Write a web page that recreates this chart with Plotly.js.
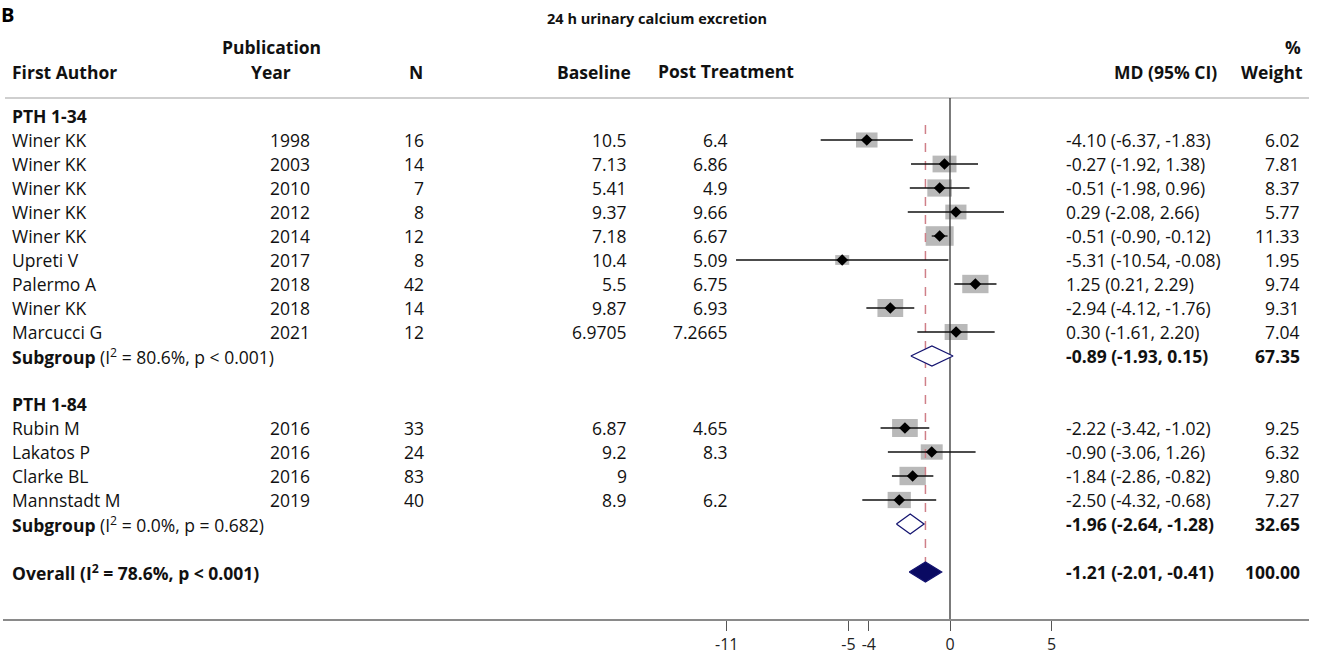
<!DOCTYPE html>
<html><head><meta charset="utf-8">
<script src="https://cdn.plot.ly/plotly-3.0.1.min.js"></script>
<style>html,body{margin:0;padding:0;background:#fff;}#chart{width:1319px;height:654px;}</style>
</head><body><div id="chart"></div>
<script>
// ---------- data ----------
const groupNames = ["PTH 1-34", "PTH 1-84"];
const studyGroup = [0,0,0,0,0,0,0,0,0,1,1,1,1];
const authors = ["Winer KK","Winer KK","Winer KK","Winer KK","Winer KK","Upreti V","Palermo A","Winer KK","Marcucci G","Rubin M","Lakatos P","Clarke BL","Mannstadt M"];
const years = [1998,2003,2010,2012,2014,2017,2018,2018,2021,2016,2016,2016,2019];
const sampleN = [16,14,7,8,12,8,42,14,12,33,24,83,40];
const baseline = ["10.5","7.13","5.41","9.37","7.18","10.4","5.5","9.87","6.9705","6.87","9.2","9","8.9"];
const postTreatment = ["6.4","6.86","4.9","9.66","6.67","5.09","6.75","6.93","7.2665","4.65","8.3","","6.2"];
const md = [-4.10,-0.27,-0.51,0.29,-0.51,-5.31,1.25,-2.94,0.30,-2.22,-0.90,-1.84,-2.50];
const ciLow = [-6.37,-1.92,-1.98,-2.08,-0.90,-10.54,0.21,-4.12,-1.61,-3.42,-3.06,-2.86,-4.32];
const ciHigh = [-1.83,1.38,0.96,2.66,-0.12,-0.08,2.29,-1.76,2.20,-1.02,1.26,-0.82,-0.68];
const weight = [6.02,7.81,8.37,5.77,11.33,1.95,9.74,9.31,7.04,9.25,6.32,9.80,7.27];

const subMd = [-0.89,-1.96];
const subLow = [-1.93,-2.64];
const subHigh = [0.15,-1.28];
const subWeight = [67.35,32.65];
const subI2 = ["80.6%","0.0%"];
const subP = ["p &lt; 0.001","p = 0.682"];

const overallMd = -1.21, overallLow = -2.01, overallHigh = -0.41, overallWeight = 100.00;
const overallI2 = "78.6%", overallP = "p &lt; 0.001";

const tickVals = [-11,-5,-4,0,5];
const tickText = ["-11","-5","-4","0","5"];

// ---------- layout constants ----------
const W = 1319, H = 654;
const PXU = 20.3, ZEROPX = 950;          // px per unit, pixel of x=0
const AX_L = 3, AX_R = 1309;             // axis domain in px
const ROW0 = 116, ROWH = 24;             // pixel of row 0, row height
const FONT = "Open Sans, Noto Sans, sans-serif";
const FS = 17.5;
const PAD = 3;                            // annotation inner padding compensation
const pxToRow = p => (p - ROW0) / ROWH;

// build row indices
const studyRow = [], subRow = [], groupRow = [];
let r = 0;
for (let g = 0; g < groupNames.length; g++) {
  groupRow.push(r); r++;
  for (let i = 0; i < authors.length; i++) if (studyGroup[i] === g) { studyRow[i] = r; r++; }
  subRow.push(r); r++;
  r++; // blank
}
const overallRow = r;
const axisRow = overallRow + 2;

const fmt = v => v.toFixed(2);
const ciText = (m,l,h) => fmt(m) + " (" + fmt(l) + ", " + fmt(h) + ")";

// ---------- traces ----------
const traces = [];
traces.push({
  type: "scatter", mode: "markers", xaxis: "x", yaxis: "y",
  x: md, y: studyRow,
  marker: {symbol: "diamond", size: 9, color: "#000"},
  error_x: {type: "data", symmetric: false,
    array: md.map((m,i) => ciHigh[i]-m), arrayminus: md.map((m,i) => m-ciLow[i]),
    color: "#111", thickness: 1.3, width: 0},
  hoverinfo: "skip", showlegend: false
});
function diamond(m, l, h, row, fill) {
  const hh = 10 / ROWH;
  return {type: "scatter", mode: "lines", xaxis: "x", yaxis: "y",
    x: [l, m, h, m, l], y: [row, row-hh, row, row+hh, row],
    fill: "toself", fillcolor: fill, line: {color: "#141470", width: 1.3},
    hoverinfo: "skip", showlegend: false};
}
for (let g = 0; g < subMd.length; g++) traces.push(diamond(subMd[g], subLow[g], subHigh[g], subRow[g], "#ffffff"));
traces.push(diamond(overallMd, overallLow, overallHigh, overallRow, "#0a0a62"));
traces.push({type:"scatter", mode:"none", x:[AX_L], y:[0], xaxis:"x2", yaxis:"y", hoverinfo:"skip", showlegend:false});

// ---------- shapes ----------
const shapes = [];
md.forEach((m,i) => {
  const wpx = 4.1 + 7.1*Math.sqrt(weight[i]);
  const hpx = 0.7*wpx;
  const hw = wpx/2/PXU, hh = hpx/2/ROWH;
  shapes.push({type:"rect", xref:"x", yref:"y", x0:m-hw, x1:m+hw, y0:studyRow[i]-hh, y1:studyRow[i]+hh,
    fillcolor:"#b9b9b9", line:{width:0}, layer:"below"});
});
shapes.push({type:"line", xref:"x2", yref:"y", x0:5, x1:1310, y0:pxToRow(98), y1:pxToRow(98), line:{color:"#cfcfcf", width:2}, layer:"below"});
shapes.push({type:"line", xref:"x", yref:"y", x0:0, x1:0, y0:pxToRow(98), y1:axisRow, line:{color:"#333", width:1.3}, layer:"below"});
shapes.push({type:"line", xref:"x", yref:"y", x0:overallMd, x1:overallMd, y0:pxToRow(125), y1:overallRow+0.42, line:{color:"#cf7f88", width:1.5, dash:"dash"}, layer:"below"});

// ---------- annotations ----------
const ann = [];
function txt(x, row, text, anchor, opts) {
  const dx = anchor === "left" ? -PAD : (anchor === "right" ? PAD : 0);
  ann.push(Object.assign({xref:"x2", yref:"y", x:x + dx, y:row, text:text, showarrow:false,
    xanchor:anchor, yanchor:"middle", font:{family:FONT, size:FS, color:"#111"}}, opts||{}));
}
const hTop = pxToRow(47), hBot = pxToRow(72);
txt(13, hBot, "<b>First Author</b>", "left");
txt(271, hTop, "<b>Publication</b>", "center");
txt(271, hBot, "<b>Year</b>", "center");
txt(422, hBot, "<b>N</b>", "right");
txt(630, hBot, "<b>Baseline</b>", "right");
txt(659, pxToRow(70.5), "<b>Post Treatment</b>", "left");
txt(1216, hBot, "<b>MD (95% CI)</b>", "right");
txt(1300, hTop, "<b>%</b>", "right");
txt(1302, hBot, "<b>Weight</b>", "right");
groupNames.forEach((g,i) => txt(13, groupRow[i], "<b>" + g + "</b>", "left"));
authors.forEach((a,i) => {
  const row = studyRow[i];
  txt(13, row, a, "left");
  txt(309, row, String(years[i]), "right");
  txt(423, row, String(sampleN[i]), "right");
  txt(626, row, baseline[i], "right");
  if (postTreatment[i] !== "") txt(727, row, postTreatment[i], "right");
  txt(1067, row, ciText(md[i], ciLow[i], ciHigh[i]), "left");
  txt(1299, row, fmt(weight[i]), "right");
});
subMd.forEach((m,g) => {
  txt(13, subRow[g], "<b>Subgroup</b> (I<sup>2</sup> = " + subI2[g] + ", " + subP[g] + ")", "left");
  txt(1067, subRow[g], "<b>" + ciText(m, subLow[g], subHigh[g]) + "</b>", "left");
  txt(1299, subRow[g], "<b>" + fmt(subWeight[g]) + "</b>", "right");
});
txt(13, overallRow, "<b>Overall (I<sup>2</sup> = " + overallI2 + ", " + overallP + ")</b>", "left");
txt(1067, overallRow, "<b>" + ciText(overallMd, overallLow, overallHigh) + "</b>", "left");
txt(1299, overallRow, "<b>" + fmt(overallWeight) + "</b>", "right");
ann.push({xref:"paper", yref:"paper", x:0, y:1 - 15/H, text:"<b>B</b>", showarrow:false, xanchor:"left", yanchor:"middle",
  borderpad:0, font:{family:FONT, size:20, color:"#000"}});

const layout = {
  width: W, height: H, margin: {l:0, r:0, t:0, b:0}, paper_bgcolor: "#fff", plot_bgcolor: "#fff",
  showlegend: false,
  title: {text: "<b>24 h urinary calcium excretion</b>", x: 657/W, xanchor: "center", y: 1 - 19/H, yanchor: "middle",
    font: {family: FONT, size: 14.5, color: "#111"}},
  xaxis: {domain: [AX_L/W, AX_R/W], range: [(AX_L-ZEROPX)/PXU, (AX_R-ZEROPX)/PXU],
    anchor: "free", position: 1 - 620/H, showgrid: false, zeroline: false,
    showline: true, linecolor: "#8a8a8a", linewidth: 2,
    ticks: "outside", ticklen: 10, tickcolor: "#555", tickwidth: 1,
    tickmode: "array", tickvals: tickVals, ticktext: tickText,
    tickfont: {family: FONT, size: 16, color: "#222"}, fixedrange: true},
  xaxis2: {overlaying: "x", range: [AX_L, AX_R], visible: false, fixedrange: true},
  yaxis: {domain: [0,1], range: [(H-ROW0)/ROWH, -ROW0/ROWH], visible: false, fixedrange: true},
  shapes: shapes, annotations: ann
};
Plotly.newPlot("chart", traces, layout, {staticPlot: true, displayModeBar: false});
</script></body></html>
